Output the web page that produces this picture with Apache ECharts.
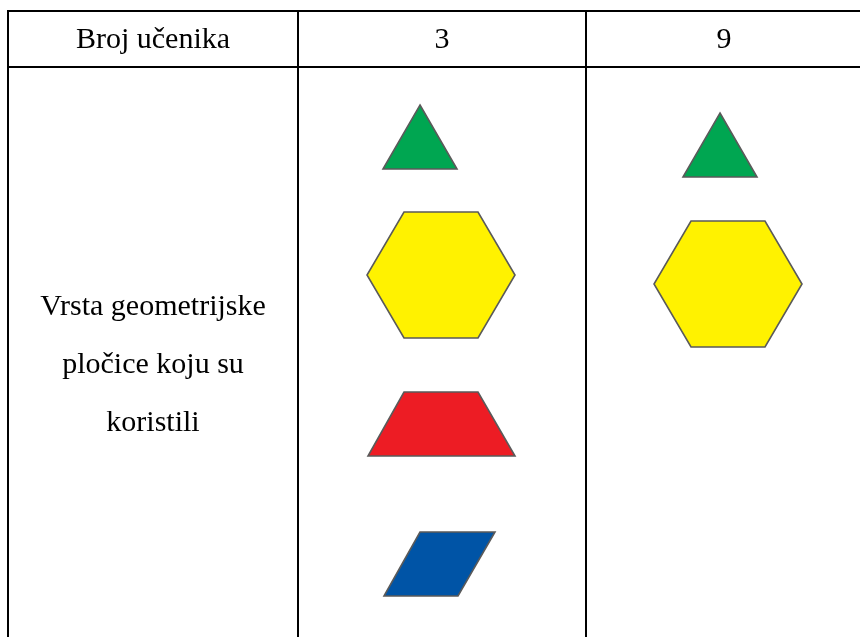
<!DOCTYPE html>
<html><head><meta charset="utf-8">
<script src="https://cdn.jsdelivr.net/npm/echarts@6/dist/echarts.min.js"></script>
<style>html,body{margin:0;padding:0;background:#fff}#c{width:860px;height:637px}</style>
</head><body><div id="c"></div>
<script>
// ---- data ----
var headerCells = ['Broj učenika', '3', '9'];
var rowLabelLines = ['Vrsta geometrijske', 'pločice koju su', 'koristili'];
var tilesGroup3 = ['triangle', 'hexagon', 'trapezoid', 'rhombus'];
var tilesGroup9 = ['triangle', 'hexagon'];

// ---- layout (pixels in a 860x637 value space) ----
var W = 860, H = 637;
var colEdges = [8, 298, 586, 880];
var topY = 11, headerBottomY = 67;
var SERIF = '"Liberation Serif","Times New Roman",serif';
var FS = 30;
var tileColors = { triangle: '#00a651', hexagon: '#fff200', trapezoid: '#ed1c24', rhombus: '#0054a6' };
var templates = {
  triangle: [[37,0],[74,64],[0,64]],
  hexagon: [[37,0],[111,0],[148,63],[111,126],[37,126],[0,63]],
  trapezoid: [[36,0],[110,0],[147,64],[0,64]],
  rhombus: [[36,0],[111,0],[74,64],[0,64]]
};
// anchor (top-left) per column slot
var anchors = {
  1: [[383,105],[367,212],[368,392],[384,532]],
  2: [[683,113],[654,221]]
};

var tileData = [];
tilesGroup3.forEach(function (t, i) { tileData.push([1, i, t]); });
tilesGroup9.forEach(function (t, i) { tileData.push([2, i, t]); });

var lineData = [
  [colEdges[0], topY, W, topY],
  [colEdges[0], headerBottomY, W, headerBottomY],
  [colEdges[0], topY - 1, colEdges[0], H],
  [colEdges[1], topY, colEdges[1], H],
  [colEdges[2], topY, colEdges[2], H]
];

var textData = [];
headerCells.forEach(function (t, i) {
  textData.push([(colEdges[i] + colEdges[i + 1]) / 2 + (i === 2 ? -9 : 0), 40, t]);
});
rowLabelLines.forEach(function (t, i) {
  textData.push([(colEdges[0] + colEdges[1]) / 2, 307 + i * 58, t]);
});

var chart = echarts.init(document.getElementById('c'), null, { renderer: 'canvas' });
chart.setOption({
  animation: false,
  backgroundColor: '#fff',
  grid: { left: 0, right: 0, top: 0, bottom: 0 },
  xAxis: { type: 'value', min: 0, max: W, show: false },
  yAxis: { type: 'value', min: 0, max: H, inverse: true, show: false },
  series: [
    {
      type: 'custom', data: lineData, silent: true,
      renderItem: function (params, api) {
        var a = api.coord([api.value(0), api.value(1)]);
        var b = api.coord([api.value(2), api.value(3)]);
        return { type: 'line', shape: { x1: a[0], y1: a[1], x2: b[0], y2: b[1] },
          style: { stroke: '#000', lineWidth: 2 } };
      }
    },
    {
      type: 'custom', data: tileData, silent: true,
      renderItem: function (params, api) {
        var d = tileData[params.dataIndex];
        var anc = anchors[d[0]][d[1]];
        var pts = templates[d[2]].map(function (p) {
          return api.coord([anc[0] + p[0], anc[1] + p[1]]);
        });
        return { type: 'polygon', shape: { points: pts },
          style: { fill: tileColors[d[2]], stroke: '#5a5a5a', lineWidth: 1.6, lineJoin: 'miter' } };
      }
    },
    {
      type: 'custom', data: textData, silent: true,
      renderItem: function (params, api) {
        var d = textData[params.dataIndex];
        var p = api.coord([d[0], d[1]]);
        return { type: 'text', x: p[0], y: p[1],
          style: { text: d[2], fill: '#000', font: FS + 'px ' + SERIF, align: 'center', verticalAlign: 'middle' } };
      }
    }
  ]
});
</script></body></html>
